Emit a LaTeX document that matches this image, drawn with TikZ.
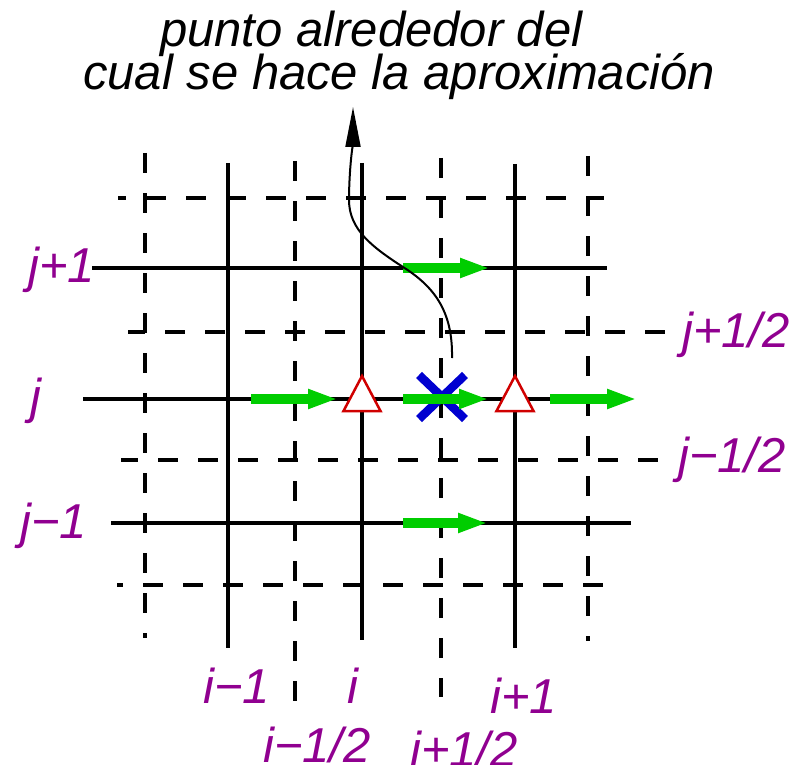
\documentclass[tikz,border=0pt]{standalone}
\usepackage{fontspec}
\setmainfont{Liberation Sans}
\usetikzlibrary{arrows.meta}
\definecolor{idxpurple}{RGB}{144,0,144}
\definecolor{fluxgreen}{RGB}{0,205,0}
\definecolor{markred}{RGB}{208,0,0}
\definecolor{crossblue}{RGB}{0,0,208}

\begin{document}
\begin{tikzpicture}[x=1pt, y=-1pt,
  gridline/.style={line width=4.8pt},
  halfline/.style={line width=4.8pt, dash pattern=on 20pt off 20pt},
  greenarrow/.style={line width=10pt, color=fluxgreen, -{Triangle[length=30pt,width=18pt]}},
  marker/.style={draw=markred, line width=2.5pt, fill=white, line join=miter},
  crossmark/.style={crossblue, line width=8.5pt},
  pointer/.style={line width=2pt, -{Triangle[length=40pt,width=15pt]}},
  idxlabel/.style={text=idxpurple, font=\fontsize{49}{44}\selectfont\itshape, inner sep=0pt, anchor=base west},
  caption/.style={font=\fontsize{49}{44}\selectfont\itshape, inner sep=0pt, anchor=base west}
]
\useasboundingbox (0,0) rectangle (798,765);
\foreach \x/\a/\b in {145/153/638, 295/161/720, 441/158/697, 588/156/641}
  {\draw[halfline] (\x,\a) -- (\x,\b);}
\foreach \y/\a/\b/\f in {198/118/604/12, 332/128/665/3, 460/121/658/3, 585/117/603/14}
  {\draw[halfline, dash phase=\f pt] (\a,\y) -- (\b,\y);}
\foreach \x/\a/\b in {228/163/648, 362/163/640, 515/164/648}
  {\draw[gridline] (\x,\a) -- (\x,\b);}
\foreach \y/\a/\b in {268/92/607, 399/83/550, 523/111/631}
  {\draw[gridline] (\a,\y) -- (\b,\y);}
\draw[crossmark] (419,375) -- (465,419) (465,375) -- (419,419);
\foreach \a/\b/\y in {403/490/268, 251/338/399, 403/489/399, 550/637/399, 403/488/523}
  {\draw[greenarrow] (\a,\y) -- (\b,\y);}
\foreach \x in {362,515}
  {\draw[marker] (\x-18.5,411) -- (\x,376) -- (\x+18.5,411) -- cycle;}
\node[caption] (line1) at (160,47) {punto alrededor del};
\node[caption] (line2) at (83,90) {cual se hace la aproximación};
\coordinate (start) at (452,358);
\coordinate (tip) at (353,107);
\draw[pointer] (start) .. controls (453,310) and (433,286) .. (403,267)
  .. controls (373,247.5) and (349,230) .. (349,200)
  .. controls (349,170) and (353,140) .. (tip);
\node[idxlabel] (jp1) at (28,282) {j+1};
\node[idxlabel] (j0) at (30,413) {j};
\node[idxlabel] (jm1) at (20,538) {j−1};
\node[idxlabel] (jph) at (682,347) {j+1/2};
\node[idxlabel] (jmh) at (678,472) {j−1/2};
\node[idxlabel] (im1) at (203,703) {i−1};
\node[idxlabel] (i0) at (347,703) {i};
\node[idxlabel] (ip1) at (490,713) {i+1};
\node[idxlabel] (imh) at (263,762) {i−1/2};
\node[idxlabel] (iph) at (410,766) {i+1/2};
\end{tikzpicture}
\end{document}
